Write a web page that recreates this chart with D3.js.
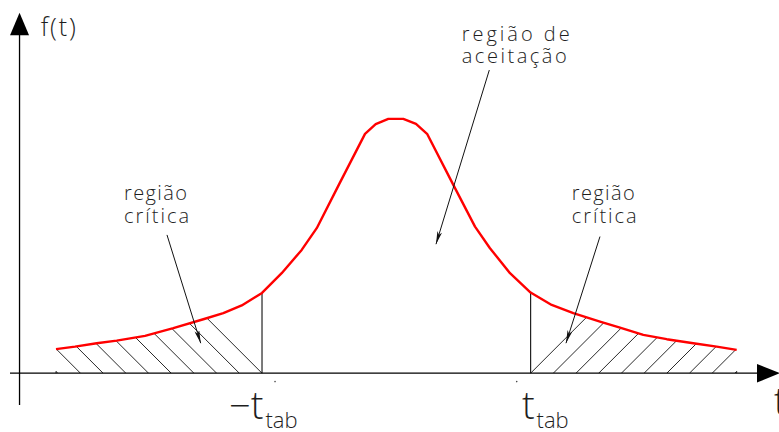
<!DOCTYPE html>
<html>
<head>
<meta charset="utf-8">
<script src="https://cdn.jsdelivr.net/npm/d3@7/dist/d3.min.js"></script>
<style>
  body { margin: 0; background: #fff; }
  text { font-family: "Open Sans", "DejaVu Sans", sans-serif; font-weight: 300; fill: #1e1e1e; }
</style>
</head>
<body>
<div id="chart"></div>
<script>
// curve vertices: t and f(t)
var tValues = [-5.068, -4.785, -4.462, -4.164, -3.742, -3.321, -2.874, -2.576, -2.302, -2.0,
               -1.707, -1.409, -1.185, -0.849, -0.466, -0.307, -0.119,
               0.104, 0.293, 0.462, 0.849, 1.172, 1.395, 1.693, 2.0,
               2.314, 2.636, 3.033, 3.331, 3.678, 4.027, 4.423, 4.771, 5.069];
var fValues = [0.0378, 0.0418, 0.0472, 0.0513, 0.0587, 0.0708, 0.0849, 0.0944, 0.1066, 0.1263,
               0.1573, 0.1939, 0.2281, 0.2978, 0.3764, 0.3917, 0.4,
               0.4, 0.3921, 0.3759, 0.2962, 0.2306, 0.1966, 0.1573, 0.1268,
               0.1074, 0.0944, 0.0812, 0.0717, 0.0602, 0.0535, 0.0472, 0.0418, 0.0367];
var tTab = 2;
var hatchStep = 0.338;   // hatch spacing along t
var tRange = [-5.753, 5.714];
var fRange = [-0.05, 0.567];

var axisLabels = ["f(t)", "t"];
var tabLabels = ["\u2212t", "t"];
var tabSub = "tab";
var acceptLines = ["região de", "aceitação"];
var criticalLines = ["região", "crítica"];

var width = 779, height = 432;

var svg = d3.select("#chart").append("svg")
    .attr("width", width)
    .attr("height", height);

var x = d3.scaleLinear().domain(tRange).range([10, 780]);
var y = d3.scaleLinear().domain(fRange).range([405, 12.7]);

var pts = tValues.map(function(t, i) { return [t, fValues[i]]; });
var leftTail = pts.filter(function(d) { return d[0] <= -tTab + 1e-9; });
var rightTail = pts.filter(function(d) { return d[0] >= tTab - 1e-9; });

var line = d3.line()
    .x(function(d) { return x(d[0]); })
    .y(function(d) { return y(d[1]); });
var area = d3.area()
    .x(function(d) { return x(d[0]); })
    .y0(y(0))
    .y1(function(d) { return y(d[1]); });

var defs = svg.append("defs");
defs.append("clipPath").attr("id", "clipL").append("path").attr("d", area(leftTail));
defs.append("clipPath").attr("id", "clipR").append("path").attr("d", area(rightTail));
defs.append("marker")
    .attr("id", "head")
    .attr("viewBox", "0 0 13 5")
    .attr("refX", 13).attr("refY", 2.5)
    .attr("markerWidth", 13).attr("markerHeight", 5)
    .attr("markerUnits", "userSpaceOnUse")
    .attr("orient", "auto")
  .append("path")
    .attr("d", "M0,0 L13,2.5 L0,5 L3,2.5 Z")
    .attr("fill", "#111");

// hatching of critical regions
var kList = d3.range(0, 10);
svg.append("g").attr("clip-path", "url(#clipL)")
  .selectAll("line").data(kList).enter().append("line")
    .attr("x1", function(k) { return x(-tTab - k * hatchStep); })
    .attr("y1", y(0))
    .attr("x2", function(k) { return x(-tTab - k * hatchStep) - 120; })
    .attr("y2", y(0) - 120)
    .attr("stroke", "#111").attr("stroke-width", 0.9);
svg.append("g").attr("clip-path", "url(#clipR)")
  .selectAll("line").data(kList).enter().append("line")
    .attr("x1", function(k) { return x(tTab + k * hatchStep); })
    .attr("y1", y(0))
    .attr("x2", function(k) { return x(tTab + k * hatchStep) + 120; })
    .attr("y2", y(0) - 120)
    .attr("stroke", "#111").attr("stroke-width", 0.9);

// vertical boundaries at +-t_tab
[leftTail[leftTail.length - 1], rightTail[0]].forEach(function(d) {
  svg.append("line")
    .attr("x1", x(d[0])).attr("x2", x(d[0]))
    .attr("y1", y(0)).attr("y2", y(d[1]))
    .attr("stroke", "#222").attr("stroke-width", 1.2);
});

// small ticks at the curve ends
[pts[0][0], pts[pts.length - 1][0]].forEach(function(t) {
  svg.append("line")
    .attr("x1", x(t)).attr("x2", x(t))
    .attr("y1", y(0)).attr("y2", y(0) - 2)
    .attr("stroke", "#333");
});
[-1.806, 1.793].forEach(function(t) {
  svg.append("circle").attr("cx", x(t)).attr("cy", y(-0.0132)).attr("r", 0.8).attr("fill", "#444");
});

// axes
var x0 = x(tRange[0]), xTip = x(tRange[1]), yAx = y(0);
var yx = x(-5.611), yTop = y(fRange[1]), yBot = y(fRange[0]);
svg.append("line").attr("x1", x0).attr("x2", xTip - 22).attr("y1", yAx).attr("y2", yAx)
    .attr("stroke", "#000").attr("stroke-width", 1.3);
svg.append("path")
    .attr("d", "M" + xTip + "," + yAx + "L" + (xTip - 23) + "," + (yAx - 9.3) + "L" + (xTip - 23) + "," + (yAx + 9.3) + "Z")
    .attr("fill", "#000");
svg.append("line").attr("x1", yx).attr("x2", yx).attr("y1", yBot).attr("y2", yTop + 22)
    .attr("stroke", "#000").attr("stroke-width", 1.3);
svg.append("path")
    .attr("d", "M" + yx + "," + yTop + "L" + (yx - 9.5) + "," + (yTop + 22.5) + "L" + (yx + 9.5) + "," + (yTop + 22.5) + "Z")
    .attr("fill", "#000");

// density curve
svg.append("path")
    .datum(pts)
    .attr("fill", "none")
    .attr("stroke", "#ff0000")
    .attr("stroke-width", 2.4)
    .attr("stroke-linejoin", "round")
    .attr("d", line);

// axis labels
svg.append("text").attr("x", x(-5.295)).attr("y", y(0.5306))
    .attr("textLength", 35).attr("lengthAdjust", "spacing")
    .style("font-size", "25px").text(axisLabels[0]);
svg.append("text").attr("x", x(5.625)).attr("y", y(-0.0656))
    .style("font-size", "38px").text(axisLabels[1]);

var tabPos = [[-2.49, -0.0719], [1.87, -0.0719]];
tabPos.forEach(function(p, i) {
  var t = svg.append("text").attr("x", x(p[0])).attr("y", y(p[1]))
      .style("font-size", "38px").text(tabLabels[i]);
  t.append("tspan").attr("dx", 2).attr("dy", 9).style("font-size", "22px").text(tabSub);
});

// annotations with leaders
function note(lines, t, f, widths, from, to) {
  var bx = x(t);
  lines.forEach(function(s, i) {
    svg.append("text")
      .attr("x", bx).attr("y", y(f[i]))
      .attr("textLength", widths[i]).attr("lengthAdjust", "spacing")
      .style("font-size", "20px").text(s);
  });
  svg.append("line")
    .attr("x1", x(from[0])).attr("y1", y(from[1]))
    .attr("x2", x(to[0])).attr("y2", y(to[1]))
    .attr("stroke", "#111").attr("stroke-width", 1)
    .attr("marker-end", "url(#head)");
}
note(acceptLines, 0.974, [0.523, 0.4876], [108, 105], [1.385, 0.4768], [0.591, 0.2029]);
note(criticalLines, -4.055, [0.2726, 0.2359], [63, 65], [-3.415, 0.2175], [-2.913, 0.0472]);
note(criticalLines, 2.612, [0.2726, 0.2359], [63, 65], [3.033, 0.2149], [2.527, 0.0472]);
</script>
</body>
</html>
